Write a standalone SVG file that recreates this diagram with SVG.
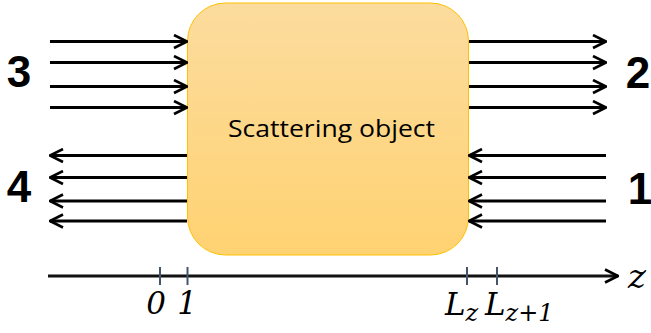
<svg xmlns="http://www.w3.org/2000/svg" width="651" height="333" viewBox="0 0 651 333">
<defs>
<linearGradient id="g" x1="0" y1="0" x2="0" y2="1">
<stop offset="0" stop-color="#FCDC9E"/>
<stop offset="1" stop-color="#FFD272"/>
</linearGradient>
<marker id="ah" viewBox="0 0 16 16" refX="15" refY="8" markerWidth="16" markerHeight="16" markerUnits="userSpaceOnUse" orient="auto">
<path d="M2,1.5 L15,8 L2,14.5" fill="none" stroke="#000" stroke-width="2.6"/>
</marker>
</defs>
<style>
.ray{stroke:#000;stroke-width:3;fill:none;marker-end:url(#ah)}
.tick{stroke:#44546A;stroke-width:2}
.num{font-family:"Liberation Sans",Arial,sans-serif;font-weight:bold;font-size:44px;text-anchor:middle;fill:#000}
.math{font-family:"DejaVu Serif","Liberation Serif",serif;font-style:italic;font-size:31px;fill:#000}
.sub{font-size:24px}
.zl{font-size:34px}
</style>
<g id="object">
<rect x="187.5" y="3" width="281" height="252" rx="38" ry="38" fill="url(#g)" stroke="#FFC000" stroke-width="1"/>
<text x="331.5" y="137" font-family="'Open Sans','Liberation Sans',sans-serif" font-size="23" text-anchor="middle" textLength="207" lengthAdjust="spacingAndGlyphs" fill="#000">Scattering object</text>
</g>
<g id="connectors">
<line class="ray" x1="50" y1="41.5" x2="187" y2="41.5"/>
<line class="ray" x1="50" y1="62.5" x2="187" y2="62.5"/>
<line class="ray" x1="50" y1="86.5" x2="187" y2="86.5"/>
<line class="ray" x1="50" y1="107.5" x2="187" y2="107.5"/>
<line class="ray" x1="469" y1="41.5" x2="606" y2="41.5"/>
<line class="ray" x1="469" y1="62.5" x2="606" y2="62.5"/>
<line class="ray" x1="469" y1="86.5" x2="606" y2="86.5"/>
<line class="ray" x1="469" y1="107.5" x2="606" y2="107.5"/>
<line class="ray" x1="606" y1="155.5" x2="469" y2="155.5"/>
<line class="ray" x1="606" y1="177.5" x2="469" y2="177.5"/>
<line class="ray" x1="606" y1="201" x2="469" y2="201"/>
<line class="ray" x1="606" y1="221" x2="469" y2="221"/>
<line class="ray" x1="187" y1="155.5" x2="50" y2="155.5"/>
<line class="ray" x1="187" y1="177.5" x2="50" y2="177.5"/>
<line class="ray" x1="187" y1="201" x2="50" y2="201"/>
<line class="ray" x1="187" y1="221" x2="50" y2="221"/>
</g>
<g id="port-labels">
<text class="num" x="19" y="87">3</text>
<text class="num" x="638" y="88">2</text>
<text class="num" x="640" y="204">1</text>
<text class="num" x="19" y="202">4</text>
</g>
<g id="axis">
<line x1="48" y1="276" x2="618" y2="276" stroke="#111" stroke-width="3" marker-end="url(#ah)"/>
<line class="tick" x1="160" y1="267" x2="160" y2="285"/>
<line class="tick" x1="187.5" y1="267" x2="187.5" y2="285"/>
<line class="tick" x1="467" y1="267" x2="467" y2="285"/>
<line class="tick" x1="497" y1="267" x2="497" y2="285"/>
<text class="math" x="156" y="314" text-anchor="middle">0</text>
<text class="math" x="187" y="314" text-anchor="middle">1</text>
<text class="math" x="445" y="315">L<tspan class="sub" dy="6">z</tspan></text>
<text class="math" x="485" y="315">L<tspan class="sub" dy="6">z+1</tspan></text>
<text class="math zl" x="628" y="288">z</text>
</g>
</svg>
